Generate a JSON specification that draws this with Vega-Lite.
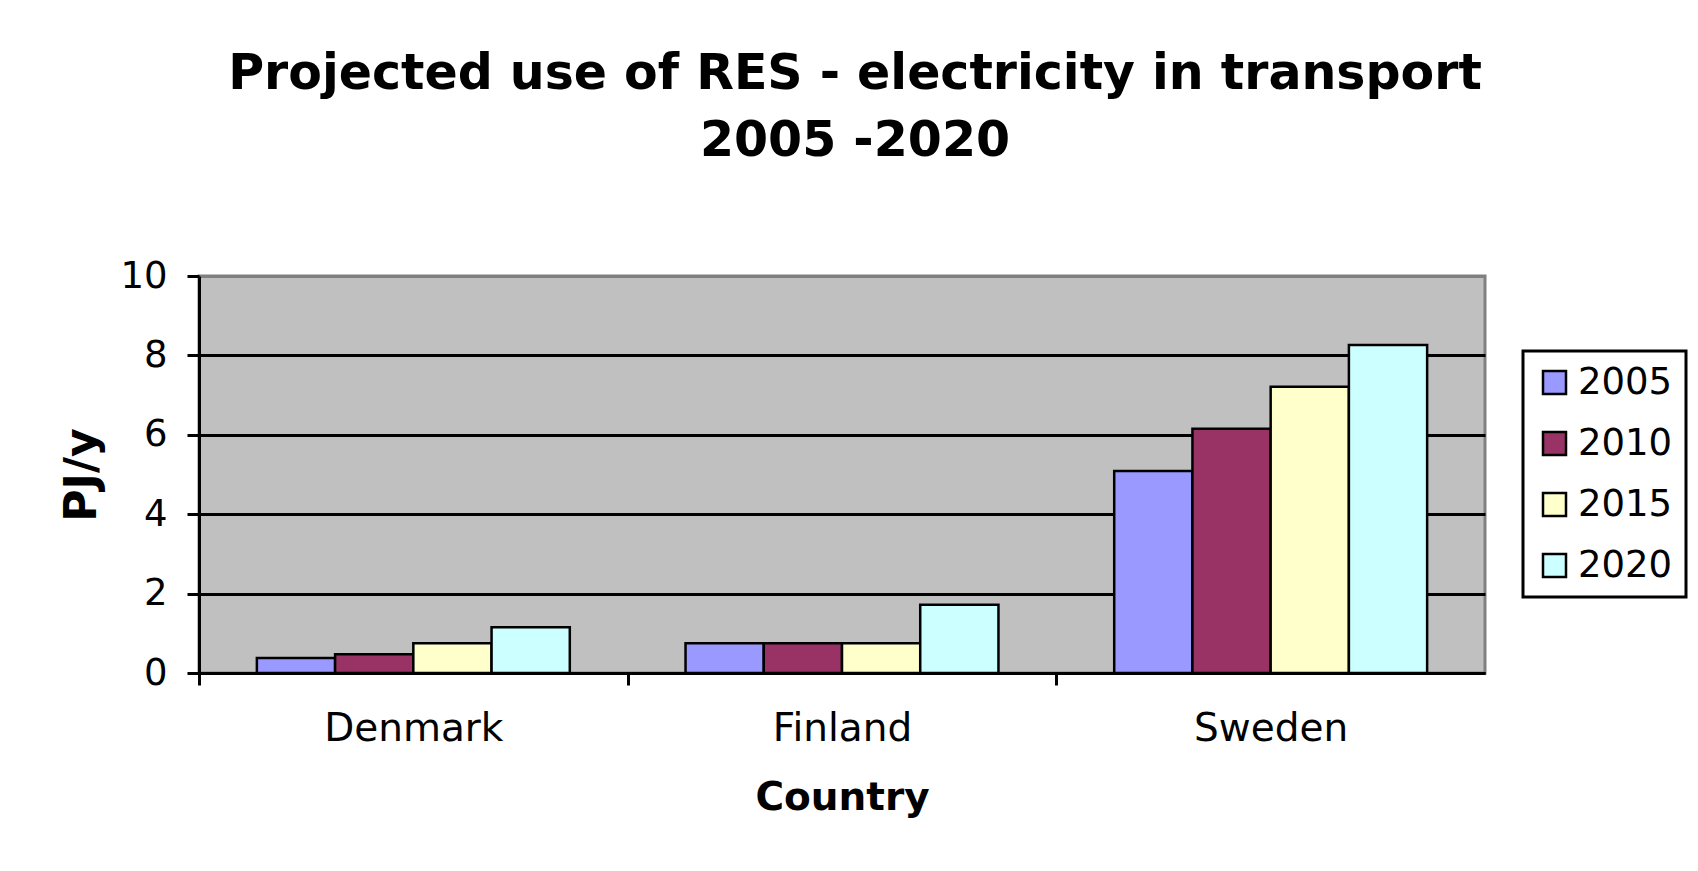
{
  "$schema": "https://vega.github.io/schema/vega-lite/v6.json",
  "autosize": {"type": "none"},
  "padding": {"left": 199, "top": 276, "right": 213, "bottom": 198},
  "width": 1286,
  "height": 397,
  "background": "white",
  "title": {
    "text": ["Projected use of RES - electricity in transport", "2005 -2020"],
    "font": "DejaVu Sans",
    "fontSize": 49,
    "fontWeight": "bold",
    "color": "black",
    "lineHeight": 67,
    "anchor": "middle",
    "frame": "group",
    "dx": 13,
    "offset": 91
  },
  "data": {
    "values": [
      {"Country": "Denmark", "Year": "2005", "Value": 0.38},
      {"Country": "Denmark", "Year": "2010", "Value": 0.47},
      {"Country": "Denmark", "Year": "2015", "Value": 0.75},
      {"Country": "Denmark", "Year": "2020", "Value": 1.15},
      {"Country": "Finland", "Year": "2005", "Value": 0.75},
      {"Country": "Finland", "Year": "2010", "Value": 0.75},
      {"Country": "Finland", "Year": "2015", "Value": 0.75},
      {"Country": "Finland", "Year": "2020", "Value": 1.72},
      {"Country": "Sweden", "Year": "2005", "Value": 5.09},
      {"Country": "Sweden", "Year": "2010", "Value": 6.15},
      {"Country": "Sweden", "Year": "2015", "Value": 7.21},
      {"Country": "Sweden", "Year": "2020", "Value": 8.26}
    ]
  },
  "mark": {"type": "bar", "stroke": "black", "strokeWidth": 2.5, "opacity": 1},
  "encoding": {
    "x": {
      "field": "Country",
      "type": "nominal",
      "scale": {"paddingInner": 0.27, "paddingOuter": 0.135},
      "axis": {
        "title": "Country",
        "labelAngle": 0,
        "labelFont": "DejaVu Sans",
        "labelFontSize": 39,
        "labelColor": "black",
        "labelPadding": 24,
        "tickOffset": -214.33,
        "labelOffset": 214.33,
        "tickSize": 12,
        "tickWidth": 3,
        "tickColor": "black",
        "domainColor": "black",
        "domainWidth": 3,
        "titleFont": "DejaVu Sans",
        "titleFontSize": 39,
        "titleFontWeight": "bold",
        "titleColor": "black",
        "titlePadding": 30
      }
    },
    "xOffset": {
      "field": "Year",
      "type": "nominal",
      "sort": ["2005", "2010", "2015", "2020"],
      "scale": {"paddingInner": 0, "paddingOuter": 0}
    },
    "y": {
      "field": "Value",
      "type": "quantitative",
      "scale": {"domain": [0, 10], "nice": false},
      "axis": {
        "title": "PJ/y",
        "values": [0, 2, 4, 6, 8, 10],
        "labelFont": "DejaVu Sans",
        "labelFontSize": 37,
        "labelColor": "black",
        "labelPadding": 20,
        "tickSize": 12,
        "tickWidth": 3,
        "tickColor": "black",
        "domainColor": "black",
        "domainWidth": 3,
        "grid": true,
        "gridColor": {"condition": {"test": "datum.value == 10", "value": "#808080"}, "value": "black"},
        "gridWidth": 3,
        "gridOpacity": 1,
        "titleFont": "DejaVu Sans",
        "titleFontSize": 44,
        "titleFontWeight": "bold",
        "titleColor": "black",
        "titlePadding": 15
      }
    },
    "color": {
      "field": "Year",
      "type": "nominal",
      "sort": ["2005", "2010", "2015", "2020"],
      "scale": {
        "domain": ["2005", "2010", "2015", "2020"],
        "range": ["#9999FF", "#993366", "#FFFFCC", "#CCFFFF"]
      },
      "legend": {
        "title": null,
        "orient": "none",
        "legendX": 1324,
        "legendY": 75,
        "symbolType": "square",
        "symbolSize": 529,
        "symbolStrokeColor": "black",
        "symbolStrokeWidth": 2.5,
        "symbolOpacity": 1,
        "labelFont": "DejaVu Sans",
        "labelFontSize": 37,
        "labelColor": "black",
        "labelOffset": 5,
        "rowPadding": 23,
        "padding": 13,
        "strokeColor": "black",
        "fillColor": "white",
        "encode": {"legend": {"update": {"strokeWidth": {"value": 3}}}}
      }
    }
  },
  "config": {
    "view": {"fill": "#C0C0C0", "stroke": "#808080", "strokeWidth": 3},
    "font": "DejaVu Sans"
  }
}
